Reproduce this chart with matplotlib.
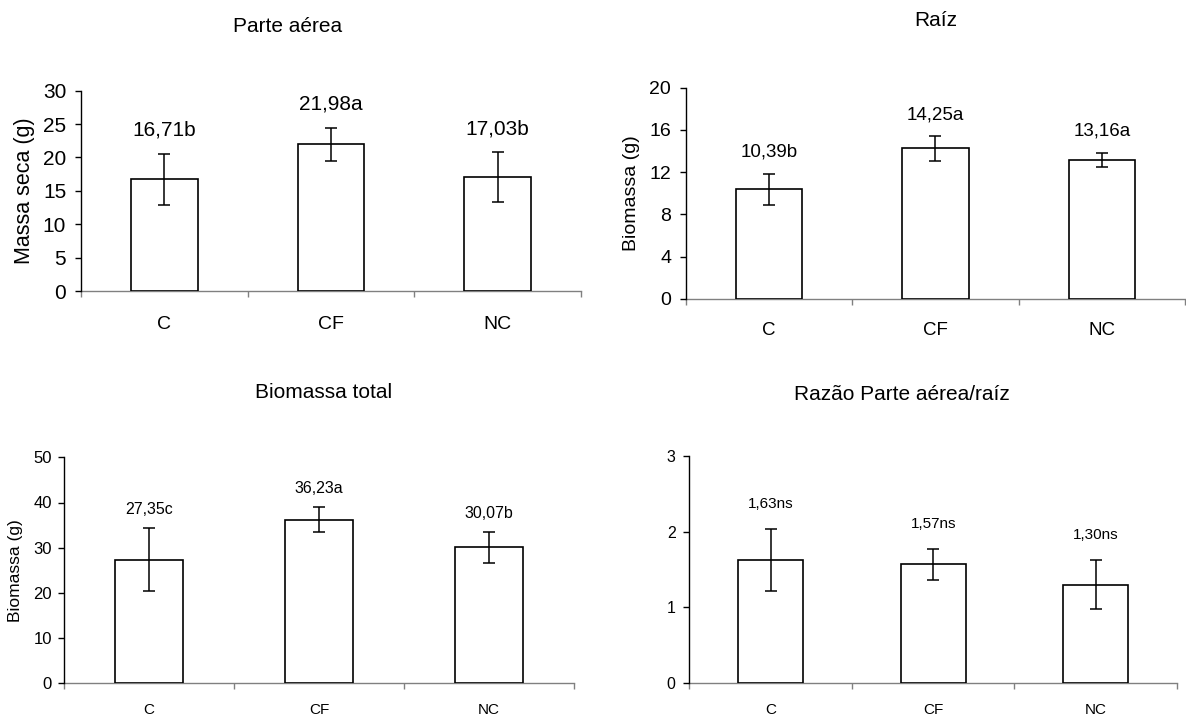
import numpy as np
import matplotlib
matplotlib.use("Agg")
import matplotlib.pyplot as plt

plt.rcParams['font.family'] = ['Liberation Sans', 'DejaVu Sans']

# data
categories = ['C', 'CF', 'NC']

parte_aerea = [16.71, 21.98, 17.03]
parte_aerea_err = [3.8, 2.45, 3.75]
parte_aerea_letters = ['b', 'a', 'b']

raiz = [10.39, 14.25, 13.16]
raiz_err = [1.45, 1.15, 0.7]
raiz_letters = ['b', 'a', 'a']

biomassa_total = [27.35, 36.23, 30.07]
biomassa_total_err = [7.0, 2.7, 3.4]
biomassa_total_letters = ['c', 'a', 'b']

razao = [1.63, 1.57, 1.30]
razao_err = [0.41, 0.205, 0.32]
razao_letters = ['ns', 'ns', 'ns']

W, H = 1186, 716
fig = plt.figure(figsize=(W / 100, H / 100), dpi=100)


def make_axes(left, right, top, bottom):
    return fig.add_axes([left / W, 1 - bottom / H, (right - left) / W, (bottom - top) / H])


def panel(ax, values, errs, letters, ymax, ystep, ylabel, ylabel_x,
          tick_fs, ylabel_fs, cat_fs, data_fs, label_off, cat_pad, tick_pad):
    x = np.arange(len(categories))
    ax.bar(x, values, width=0.4, color='white', edgecolor='black', linewidth=1.2, zorder=2)
    ax.errorbar(x, values, yerr=errs, fmt='none', ecolor='black',
                elinewidth=1.1, capsize=4.5, capthick=1.1, zorder=3)
    for xi, v, e, let in zip(x, values, errs, letters):
        txt = f"{v:.2f}".replace('.', ',') + let
        ax.annotate(txt, xy=(xi, v + e), xytext=(0, label_off), textcoords='offset points',
                    ha='center', va='center', fontsize=data_fs)
    ax.set_xlim(-0.5, len(categories) - 0.5)
    ax.set_ylim(0, ymax)
    ax.set_yticks(np.arange(0, ymax + ystep / 2, ystep))
    ax.set_xticks(np.arange(len(categories) + 1) - 0.5)
    ax.set_xticklabels([])
    ax.set_xticks(x, categories, minor=True)
    ax.tick_params(axis='x', which='minor', length=0, pad=cat_pad, labelsize=cat_fs)
    ax.tick_params(axis='x', which='major', length=4, width=1, color='#808080', direction='out')
    ax.tick_params(axis='y', length=4, width=1, pad=tick_pad, labelsize=tick_fs, direction='out')
    ax.spines['top'].set_visible(False)
    ax.spines['right'].set_visible(False)
    ax.spines['bottom'].set_color('#808080')
    ax.spines['bottom'].set_linewidth(1.0)
    ax.spines['left'].set_linewidth(1.0)
    ax.spines['bottom'].set_zorder(1)
    if ylabel:
        ax.set_ylabel(ylabel, fontsize=ylabel_fs)
        ax.yaxis.label.set_verticalalignment('center')
        ax.yaxis.set_label_coords(ylabel_x, 0.5)


ax1 = make_axes(81, 581, 90.7, 291)
panel(ax1, parte_aerea, parte_aerea_err, parte_aerea_letters, 30, 5, 'Massa seca (g)', -0.112,
      15, 15.5, 14, 15, 17, 18, 6.7)

ax2 = make_axes(686, 1185, 87.7, 299)
panel(ax2, raiz, raiz_err, raiz_letters, 20, 4, 'Biomassa (g)', -0.109,
      14, 14, 13.5, 13.5, 15.5, 16.4, 6.7)

ax3 = make_axes(64, 574, 457.3, 683.3)
panel(ax3, biomassa_total, biomassa_total_err, biomassa_total_letters, 50, 10, 'Biomassa (g)', -0.096,
      12, 12.5, 11, 11.5, 13.5, 14, 4.8)

ax4 = make_axes(689.3, 1177, 455.7, 683.3)
panel(ax4, razao, razao_err, razao_letters, 3, 1, None, 0,
      11.5, 12, 11, 11, 18, 14, 5.8)

fig.text(288 / W, 1 - 27 / H, 'Parte aérea', ha='center', va='center', fontsize=15)
fig.text(936 / W, 1 - 20 / H, 'Raíz', ha='center', va='center', fontsize=15)
fig.text(324 / W, 1 - 393 / H, 'Biomassa total', ha='center', va='center', fontsize=15)
fig.text(902 / W, 1 - 395 / H, 'Razão Parte aérea/raíz', ha='center', va='center', fontsize=15)

fig.savefig('out.png', dpi=100, facecolor='white')
